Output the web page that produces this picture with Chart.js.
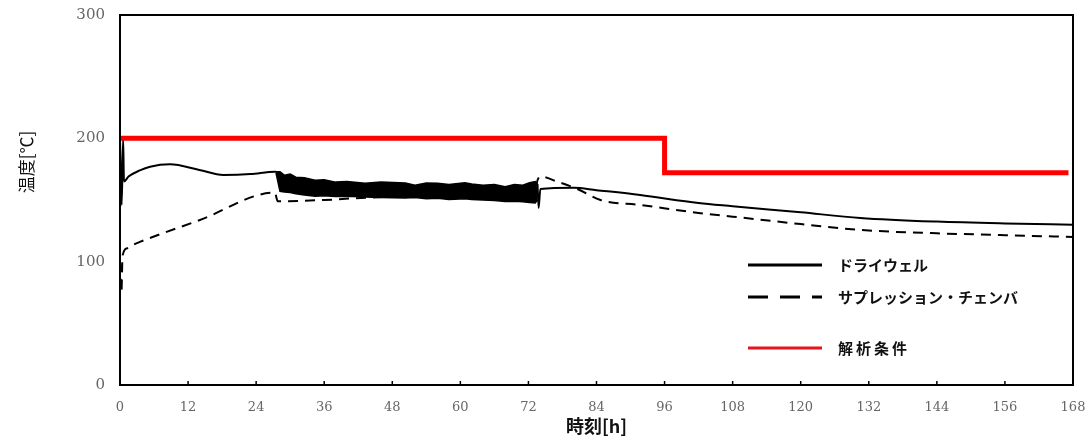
<!DOCTYPE html>
<html>
<head>
<meta charset="utf-8">
<script src="https://cdn.jsdelivr.net/npm/chart.js@4"></script>
<style>
  body { margin: 0; background: #fff; }
</style>
</head>
<body>
<canvas id="tempChart" width="1088" height="440"></canvas>
<script>
  // ドライウェル（振動区間の前後）
  const dwTime = [0, 0.3, 0.55, 0.7, 1.5, 3.5, 5.3, 8.8, 14, 18.2, 23, 27.3, 27.5,
                  null,
                  73.6, 73.8, 74.1, 80, 84, 91.7, 102, 108, 120, 130.5, 144, 156, 168];
  const dwTemp = [200, 146, 200, 165, 169, 174, 177, 179, 174.4, 170.3, 171, 173, 173,
                  null,
                  163, 143.6, 159, 160, 158, 154, 147.6, 145, 140, 135.5, 132.5, 131, 130];

  // ドライウェル振動区間の上下包絡
  const bandTime  = [27.5, 28.2, 29, 30, 31, 32.5, 34.4, 36, 38, 40, 43.2, 46, 50.3, 52, 54, 56, 58, 60.8, 62, 64, 66, 67.9, 69.5, 71, 72.2, 73.2, 73.6];
  const bandUpper = [173, 173, 170, 171, 168.5, 168, 166, 166.5, 164.5, 165, 163.5, 164.5, 163.8, 162, 163.8, 163.5, 162.5, 164, 163, 162, 162.5, 160.8, 162.5, 162, 164, 165, 163];
  const bandLower = [172, 157, 156.5, 156, 155, 154, 153, 153.5, 152.8, 153, 152.5, 152, 151.6, 152, 151, 151.5, 150.5, 151, 150.5, 150, 149.5, 148.7, 149, 148.5, 148, 147.6, 150];

  // サプレッション・チェンバ
  const spTime = [0, 0.25, 0.45, 1.4, 2.5, 3.5, 14.1, 27.3, 27.8, 36, 44, 56, 73, 73.6, 74.1,
                  77, 80.6, 84.7, 91.7, 102, 108, 120, 130.5, 144, 156, 168];
  const spTemp = [100, 75, 105, 111, 114, 116, 133.8, 156, 149, 150, 152, 153, 153.5, 166, 169,
                  165, 159, 150, 146, 139.5, 136.5, 130.5, 125.7, 123, 121.5, 120];

  // 解析条件
  const condTime = [0, 96, 96, 167.2];
  const condTemp = [200, 200, 172, 172];

  const xTicks = [0, 12, 24, 36, 48, 60, 72, 84, 96, 108, 120, 132, 144, 156, 168];
  const yTicks = [0, 100, 200, 300];

  const legendItems = [
    { label: 'ドライウェル', color: '#000', dash: [], spacing: '0px' },
    { label: 'サプレッション・チェンバ', color: '#000', dash: [20, 12], spacing: '0px' },
    { label: '解析条件', color: '#e8141b', dash: [], spacing: '3px' }
  ];

  const toXY = (ts, vs) => ts.map((t, i) => ({ x: t, y: vs[i] }));

  const framePlugin = {
    id: 'frame',
    afterDraw(chart) {
      const { ctx, chartArea: a, scales } = chart;
      ctx.save();
      // 枠
      ctx.strokeStyle = '#000';
      ctx.lineWidth = 2;
      ctx.strokeRect(a.left, a.top, a.right - a.left, a.bottom - a.top);
      // 内向き目盛
      ctx.lineWidth = 1.5;
      xTicks.forEach(v => {
        const px = scales.x.getPixelForValue(v);
        ctx.beginPath();
        ctx.moveTo(px, a.bottom);
        ctx.lineTo(px, a.bottom - 4);
        ctx.stroke();
      });
      // 縦軸タイトル
      ctx.save();
      ctx.translate(27, 162);
      ctx.rotate(-Math.PI / 2);
      ctx.font = '17px "Noto Sans CJK JP"';
      ctx.fillStyle = '#111';
      ctx.textAlign = 'center';
      ctx.textBaseline = 'middle';
      ctx.fillText('温度[℃]', 0, 0);
      ctx.restore();
      // 凡例
      const lx = 748, lw = 74, rows = [265, 297, 348];
      ctx.font = 'bold 15px "Noto Sans CJK JP"';
      ctx.textBaseline = 'middle';
      legendItems.forEach((it, i) => {
        ctx.strokeStyle = it.color;
        ctx.lineWidth = 3;
        ctx.setLineDash(it.dash);
        ctx.beginPath();
        ctx.moveTo(lx, rows[i]);
        ctx.lineTo(lx + lw, rows[i]);
        ctx.stroke();
        ctx.setLineDash([]);
        ctx.fillStyle = '#111';
        ctx.letterSpacing = it.spacing;
        ctx.fillText(it.label, lx + 90, rows[i]);
      });
      ctx.restore();
    }
  };

  new Chart(document.getElementById('tempChart'), {
    type: 'line',
    data: {
      datasets: [
        {
          label: '解析条件',
          data: toXY(condTime, condTemp),
          borderColor: '#f00',
          borderWidth: 5,
          pointRadius: 0,
          tension: 0,
          order: 0
        },
        {
          label: 'band-upper',
          data: toXY(bandTime, bandUpper),
          borderColor: '#000',
          backgroundColor: '#000',
          borderWidth: 1.5,
          pointRadius: 0,
          fill: '+1',
          order: 1
        },
        {
          label: 'band-lower',
          data: toXY(bandTime, bandLower),
          borderColor: '#000',
          borderWidth: 1.5,
          pointRadius: 0,
          fill: false,
          order: 1
        },
        {
          label: 'ドライウェル',
          data: toXY(dwTime, dwTemp),
          borderColor: '#000',
          borderWidth: 2,
          pointRadius: 0,
          cubicInterpolationMode: 'monotone',
          spanGaps: false,
          order: 2
        },
        {
          label: 'サプレッション・チェンバ',
          data: toXY(spTime, spTemp),
          borderColor: '#000',
          borderWidth: 2,
          borderDash: [10, 7],
          pointRadius: 0,
          cubicInterpolationMode: 'monotone',
          order: 3
        }
      ]
    },
    options: {
      responsive: false,
      animation: false,
      layout: { padding: { top: 15, right: 15, left: 0, bottom: 0 } },
      plugins: { legend: { display: false }, tooltip: { enabled: false } },
      scales: {
        x: {
          type: 'linear',
          min: 0,
          max: 168,
          afterBuildTicks: s => { s.ticks = xTicks.map(v => ({ value: v })); },
          afterFit: s => { s.height = 55; s.paddingLeft = 0; s.paddingRight = 0; },
          grid: { display: false },
          border: { display: true, color: '#000', width: 2 },
          ticks: { padding: 7, color: '#666', font: { family: '"DejaVu Serif"', size: 13 } },
          title: {
            display: true,
            text: '時刻[h]',
            color: '#111',
            padding: { top: 0, bottom: 3 },
            font: { family: '"Noto Sans CJK JP"', size: 18, weight: 'bold' }
          }
        },
        y: {
          min: 0,
          max: 300,
          afterBuildTicks: s => { s.ticks = yTicks.map(v => ({ value: v })); },
          afterFit: s => { s.width = 120; s.paddingTop = 0; s.paddingBottom = 0; },
          grid: { display: false },
          border: { display: true, color: '#000', width: 2 },
          ticks: { padding: 7, color: '#666', font: { family: '"DejaVu Serif"', size: 15 } }
        }
      }
    },
    plugins: [framePlugin]
  });
</script>
</body>
</html>
